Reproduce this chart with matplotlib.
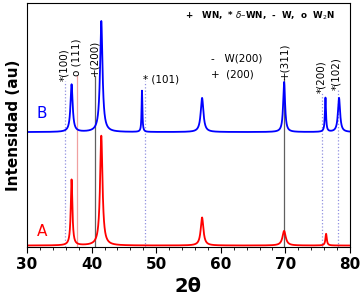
import numpy as np
import matplotlib
matplotlib.use("Agg")
import matplotlib.pyplot as plt

# peak positions (2theta), heights above baseline, widths (FWHM)
pos_A = [36.9, 41.5, 57.1, 69.8, 76.3]
hgt_A = [27.0, 45.0, 11.5, 6.0, 4.8]
wid_A = [0.30, 0.45, 0.50, 0.60, 0.25]
base_A = 0.6

pos_B = [36.9, 41.5, 47.8, 57.1, 69.8, 76.2, 78.3]
hgt_B = [19.5, 45.5, 17.0, 14.0, 20.5, 14.0, 14.0]
wid_B = [0.40, 0.45, 0.15, 0.50, 0.35, 0.20, 0.40]
base_B = 47.1

# reference lines: position, top, color, style
ref_pos = [35.9, 37.7, 40.6, 48.3, 69.8, 75.7, 78.1]
ref_top = [68.0, 70.0, 70.0, 68.0, 69.0, 63.0, 64.5]
ref_col = ['#9090e0', '#f0a0a0', '#606060', '#9090e0', '#606060', '#9090e0', '#9090e0']
ref_ls = [':', '-', '-', ':', '-', ':', ':']

x = np.linspace(30, 80, 3000)


def profile(pos, hgt, wid, base):
    y = np.full_like(x, base)
    for p, h, w in zip(pos, hgt, wid):
        y += h / (1 + ((x - p) / (w / 2)) ** 2)
    return y


fig = plt.figure(figsize=(3.62, 2.98), dpi=100)
ax = fig.add_axes([27 / 362, 51 / 298, 323 / 362, 244 / 298])

for p, t, c, s in zip(ref_pos, ref_top, ref_col, ref_ls):
    ax.plot([p, p], [0, t], color=c, ls=s, lw=0.9)

ax.plot(x, profile(pos_A, hgt_A, wid_A, base_A), color='red', lw=1.3)
ax.plot(x, profile(pos_B, hgt_B, wid_B, base_B), color='blue', lw=1.3)

ax.set_xlim(30, 80)
ax.set_ylim(0, 100)
ax.set_yticks([])
ax.set_xticks([30, 40, 50, 60, 70, 80])
ax.set_xticks(np.arange(30, 81, 2), minor=True)
ax.tick_params(axis='x', which='major', length=4, labelsize=11)
ax.tick_params(axis='x', which='minor', length=2)
for lab in ax.get_xticklabels():
    lab.set_fontweight('bold')
ax.set_xlabel('2θ', fontsize=14, fontweight='bold', labelpad=3)
ax.set_ylabel('Intensidad (au)', fontsize=11, fontweight='bold', labelpad=4)

ax.text(31.5, 53, 'B', color='blue', fontsize=11)
ax.text(31.5, 4.5, 'A', color='red', fontsize=11)

rot_kw = dict(rotation=90, fontsize=7.5, ha='center', va='bottom')
ax.text(35.7, 68, '*(100)', **rot_kw)
ax.text(37.7, 70, 'o (111)', **rot_kw)
ax.text(40.5, 70, '+(200)', **rot_kw)
ax.text(69.8, 69, '+(311)', **rot_kw)
ax.text(75.6, 63, '*(200)', **rot_kw)
ax.text(77.9, 64.5, '*(102)', **rot_kw)
ax.text(48.0, 67.5, '* (101)', fontsize=7.5)
ax.text(58.5, 76, '-   W(200)', fontsize=7.5)
ax.text(58.5, 69.5, '+  (200)', fontsize=7.5)
ax.text(54.5, 93.5, r'+   WN,  * $\delta$–WN,  -  W,  o  W$_2$N',
        fontsize=6.3, fontweight='bold')

fig.savefig('out.png', dpi=100)
